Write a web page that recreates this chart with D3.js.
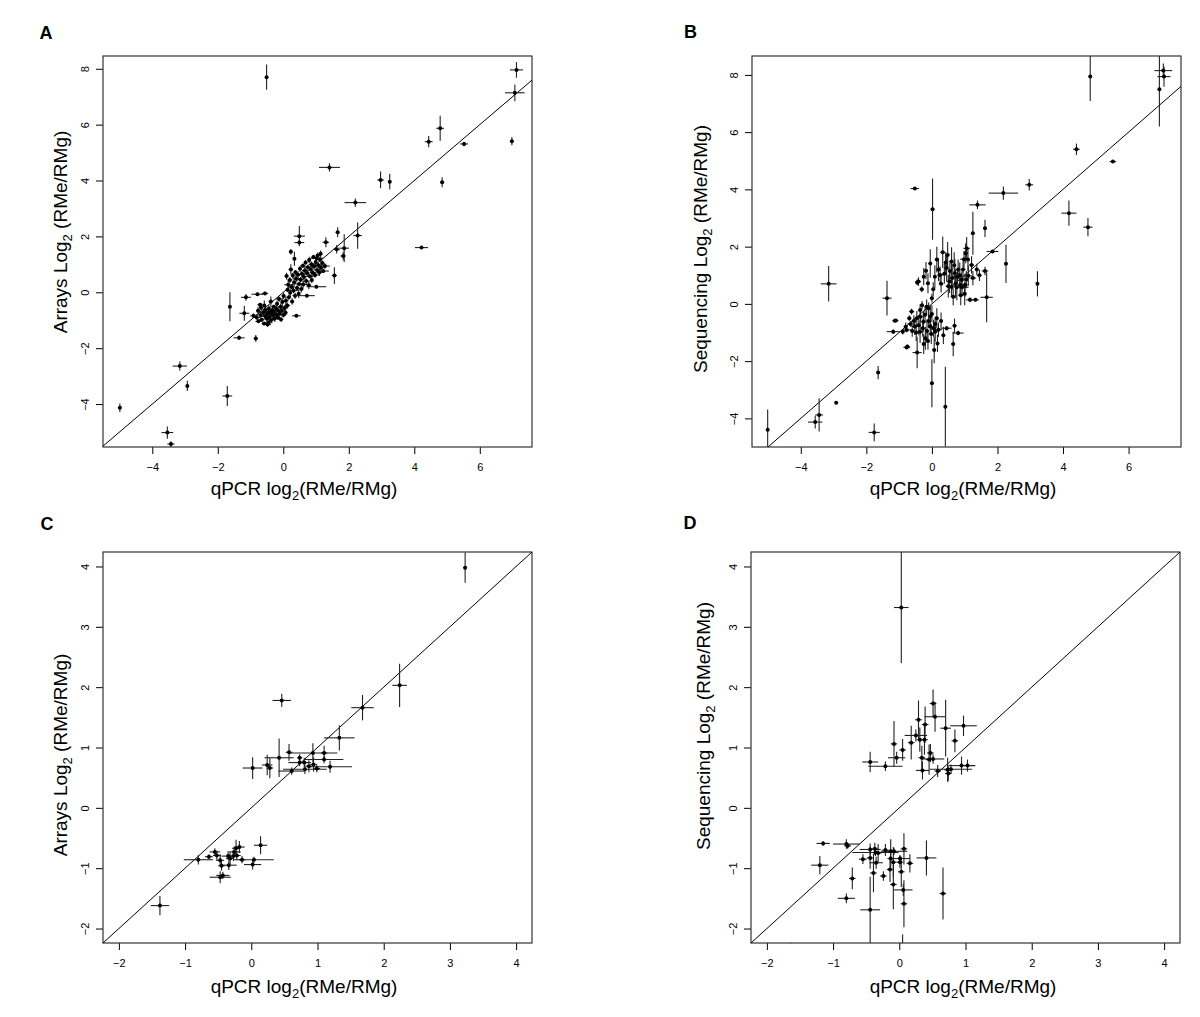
<!DOCTYPE html>
<html><head><meta charset="utf-8">
<script src="https://cdn.jsdelivr.net/npm/d3@7"></script>
<style>body{margin:0;background:#fff}svg{display:block}text{font-family:"Liberation Sans",Arial,Helvetica,sans-serif;fill:#000}</style>
</head><body>
<script>
// ---- DATA: each row = [qPCR log2, platform log2, qPCR half-error, platform half-error]
const pointsA = [
[-0.51,7.70,0.04,0.45],[7.12,7.96,0.20,0.28],[7.07,7.14,0.30,0.30],[4.79,5.87,0.12,0.45],[4.44,5.39,0.12,0.20],
[5.52,5.31,0.12,0.08],[6.98,5.41,0.05,0.15],[1.41,4.47,0.32,0.15],[2.97,4.02,0.10,0.30],[3.25,3.96,0.05,0.28],
[4.85,3.94,0.05,0.18],[2.20,3.21,0.33,0.15],[2.27,2.03,0.13,0.47],[4.22,1.60,0.20,0.06],[-4.99,-4.13,0.05,0.15],
[-3.54,-5.02,0.18,0.22],[-3.43,-5.43,0.11,0.10],[-3.16,-2.64,0.22,0.16],[-2.93,-3.35,0.04,0.18],[-1.71,-3.71,0.15,0.36],
[-1.63,-0.52,0.04,0.52],[-1.35,-1.63,0.17,0.08],[-0.84,-1.65,0.06,0.12],[-1.19,-0.75,0.15,0.27],[-1.14,-0.18,0.15,0.12],
[0.49,2.01,0.17,0.36],[0.49,1.78,0.15,0.08],[1.66,2.15,0.06,0.18],[1.30,1.79,0.10,0.18],[1.86,1.58,0.15,0.50],
[1.83,1.30,0.08,0.15],[1.56,0.60,0.08,0.30],[1.63,1.54,0.10,0.15],[0.23,1.45,0.06,0.10],[0.34,1.20,0.05,0.25],
[1.02,1.22,0.20,0.10],[1.27,0.94,0.15,0.10],[-0.79,-0.07,0.18,0.06],[-0.56,-0.04,0.10,0.06],[-0.91,-0.84,0.10,0.08],
[-0.71,-0.45,0.08,0.06],[-0.48,-1.15,0.10,0.08],
[-0.81,-0.90,0.12,0.08],[-0.77,-0.66,0.06,0.13],[-0.76,-1.04,0.09,0.06],[-0.69,-0.81,0.14,0.10],[-0.68,-0.55,0.05,0.16],
[-0.66,-0.98,0.08,0.07],[-0.60,-0.72,0.11,0.12],[-0.59,-1.12,0.07,0.06],[-0.58,-0.47,0.05,0.18],[-0.55,-0.86,0.13,0.09],
[-0.54,-0.63,0.06,0.11],[-0.50,-0.95,0.10,0.14],[-0.49,-0.78,0.07,0.08],[-0.45,-1.09,0.12,0.07],[-0.44,-0.58,0.05,0.12],
[-0.43,-0.70,0.09,0.10],[-0.42,-0.88,0.06,0.15],[-0.38,-0.33,0.07,0.18],[-0.37,-0.99,0.11,0.08],[-0.36,-0.77,0.05,0.11],
[-0.34,-0.64,0.13,0.09],[-0.30,-0.85,0.06,0.13],[-0.29,-0.52,0.09,0.07],[-0.28,-0.71,0.05,0.10],[-0.26,-0.94,0.10,0.12],
[-0.21,-0.60,0.07,0.14],[-0.20,-0.80,0.12,0.08],[-0.19,-0.41,0.05,0.11],[-0.16,-0.90,0.08,0.09],[-0.14,-0.67,0.06,0.16],
[-0.13,-0.24,0.10,0.10],[-0.11,-0.77,0.05,0.07],[-0.08,-0.52,0.09,0.12],[-0.07,-0.97,0.07,0.08],[-0.04,-0.66,0.13,0.10],
[-0.03,-0.35,0.05,0.14],[0.00,-0.81,0.08,0.09],[0.01,-0.13,0.06,0.12],[0.04,-0.56,0.11,0.08],[0.07,-0.73,0.05,0.11],
[0.08,-0.30,0.08,0.15],[0.10,0.58,0.06,0.12],
[0.12,-0.47,0.09,0.10],[0.13,0.09,0.05,0.08],[0.15,0.27,0.12,0.13],[0.17,-0.18,0.06,0.09],[0.20,0.44,0.08,0.11],
[0.21,-0.02,0.05,0.16],[0.23,0.82,0.07,0.18],[0.26,0.19,0.10,0.08],[0.27,-0.33,0.06,0.12],[0.29,0.60,0.05,0.10],
[0.31,0.06,0.13,0.09],[0.33,0.35,0.06,0.14],[0.36,-0.12,0.08,0.11],[0.37,0.72,0.05,0.08],[0.39,0.49,0.10,0.13],
[0.40,-0.84,0.13,0.05],[0.42,0.15,0.06,0.10],[0.45,0.63,0.08,0.12],[0.47,-0.05,0.05,0.15],[0.48,0.30,0.11,0.08],
[0.51,0.84,0.06,0.11],[0.53,0.45,0.09,0.09],[0.55,0.12,0.07,0.13],[0.57,0.66,0.05,0.10],[0.60,0.95,0.08,0.08],
[0.61,0.28,0.12,0.12],
[0.63,0.55,0.06,0.11],[0.66,0.78,0.09,0.15],[0.68,1.07,0.05,0.08],[0.70,0.40,0.11,0.10],[0.72,-0.12,0.24,0.06],
[0.73,0.68,0.06,0.12],[0.75,0.90,0.08,0.09],[0.78,0.25,0.07,0.14],[0.79,1.16,0.05,0.11],[0.81,0.57,0.12,0.08],
[0.84,0.82,0.06,0.13],[0.86,1.00,0.09,0.10],[0.87,0.44,0.05,0.12],[0.90,0.70,0.10,0.09],[0.92,1.26,0.06,0.08],
[0.94,0.92,0.08,0.14],[0.97,0.62,0.13,0.10],[0.99,1.08,0.05,0.12],[1.01,0.20,0.30,0.06],[1.03,0.80,0.07,0.11],
[1.05,1.32,0.06,0.10],[1.07,0.97,0.11,0.08],[1.10,0.71,0.08,0.13],[1.12,1.17,0.05,0.09],[1.15,0.88,0.09,0.12],
[1.19,1.05,0.07,0.10],[1.22,0.76,0.17,0.07],[1.14,1.38,0.05,0.12]
];
const pointsB = [
[4.83,7.94,0.04,0.85],[6.94,7.50,0.04,1.30],[7.06,8.15,0.27,0.25],[7.08,7.94,0.20,0.35],[4.41,5.40,0.10,0.20],
[5.52,4.97,0.10,0.04],[2.97,4.16,0.12,0.20],[2.18,3.87,0.45,0.23],[1.39,3.46,0.25,0.15],[4.18,3.17,0.23,0.44],
[4.76,2.68,0.14,0.32],[3.22,0.70,0.04,0.44],[-0.52,4.03,0.13,0.04],[0.02,3.31,0.06,1.07],[1.25,2.47,0.05,0.75],
[1.62,2.64,0.06,0.30],[1.85,1.83,0.18,0.06],[2.26,1.40,0.06,0.67],[1.67,0.23,0.19,0.87],[1.33,0.14,0.10,0.05],
[-3.15,0.70,0.24,0.62],[-1.37,0.20,0.14,0.61],[-5.01,-4.40,0.04,0.71],[-3.56,-4.13,0.22,0.22],[-3.44,-3.88,0.12,0.58],
[-2.92,-3.45,0.03,0.04],[-1.64,-2.40,0.05,0.23],[-1.76,-4.49,0.17,0.31],[0.00,-2.77,0.05,0.84],[0.41,-3.59,0.04,1.39],
[0.65,-1.40,0.06,0.43],[0.80,-1.02,0.17,0.08],[0.69,-0.76,0.06,0.25],[-0.45,-1.70,0.14,0.55],[-0.77,-1.52,0.10,0.06],
[-1.13,-0.59,0.08,0.04],[-1.18,-0.97,0.20,0.08],[0.07,-1.61,0.06,0.46],[0.17,-1.38,0.05,0.30],[0.45,-0.85,0.15,0.08],
[0.33,1.80,0.08,0.55],[0.48,1.71,0.06,0.45],[1.06,1.94,0.10,0.40],[1.03,1.77,0.06,0.35],[0.98,1.56,0.12,0.30],
[0.60,1.48,0.08,0.50],[-0.18,1.16,0.06,0.30],[0.09,0.95,0.05,0.40],[-0.41,0.78,0.08,0.15],[-0.12,0.72,0.06,0.35],
[0.25,1.01,0.10,0.30],[0.45,1.25,0.07,0.45],[0.70,1.07,0.06,0.50],[0.86,0.66,0.08,0.35],[0.76,0.58,0.06,0.45],
[1.01,0.66,0.10,0.40],[0.91,0.84,0.06,0.30],[1.11,0.98,0.12,0.35],[1.21,1.36,0.08,0.30],[1.37,1.20,0.06,0.20],
[1.62,1.15,0.10,0.15],[0.65,0.25,0.08,0.30],[1.16,0.14,0.12,0.08],[0.04,0.51,0.06,0.25],[-0.31,0.51,0.07,0.10],
[-0.05,1.41,0.05,0.50],[0.54,0.78,0.10,0.40],[0.20,1.20,0.06,0.40],[0.38,1.05,0.08,0.35],[0.55,1.15,0.06,0.30],
[0.62,0.90,0.12,0.40],[0.80,1.20,0.06,0.35],[0.85,1.00,0.08,0.45],[0.92,0.58,0.20,0.30],[1.05,0.85,0.06,0.30],
[1.10,1.55,0.05,0.40],[0.72,0.70,0.06,0.50],[0.50,0.62,0.08,0.40],[0.15,1.55,0.06,0.45],[0.28,0.70,0.07,0.30],
[0.42,1.45,0.05,0.35],[0.95,1.20,0.08,0.40],[0.68,1.35,0.06,0.45],[0.88,0.30,0.08,0.35],[1.25,0.90,0.10,0.25],
[1.45,1.00,0.06,0.20],[-0.25,0.95,0.05,0.30],[-0.45,0.75,0.06,0.10],[0.78,0.95,0.15,0.25],[1.00,0.35,0.06,0.40],
[0.60,0.60,0.10,0.35],
[-0.36,-0.21,0.06,0.20],[-0.16,-0.10,0.05,0.25],[-0.62,-0.27,0.08,0.10],[-0.46,-0.50,0.06,0.25],[-0.26,-0.62,0.07,0.35],
[-0.52,-0.79,0.10,0.30],[-0.36,-0.97,0.06,0.40],[-0.05,-0.79,0.08,0.30],[0.10,-0.70,0.06,0.25],[0.10,-0.97,0.07,0.35],
[-1.10,-0.58,0.08,0.05],[-0.77,-0.91,0.15,0.08],[-0.89,-0.97,0.06,0.10],[-0.75,-1.49,0.08,0.06],[-0.69,-0.50,0.06,0.10],
[-0.21,-0.38,0.07,0.30],[-0.05,-0.44,0.05,0.40],[-0.10,-0.15,0.06,0.20],[-0.30,-0.05,0.05,0.15],[-0.55,-0.60,0.08,0.20],
[-0.40,-0.75,0.06,0.35],[-0.28,-0.85,0.07,0.30],[-0.15,-0.95,0.06,0.40],[-0.02,-1.05,0.08,0.35],[0.05,-0.85,0.06,0.30],
[0.20,-0.90,0.10,0.25],[-0.48,-1.00,0.07,0.30],[-0.60,-0.95,0.06,0.20],[-0.20,-1.20,0.05,0.40],[-0.10,-0.60,0.07,0.25],
[0.00,-0.35,0.06,0.30],[-0.35,-0.45,0.08,0.20],[-0.65,-0.70,0.10,0.10],[-0.80,-0.80,0.06,0.15],[0.28,-0.60,0.06,0.30],
[0.35,-1.10,0.05,0.30],[-0.25,-1.40,0.06,0.35],[0.00,0.20,0.05,0.15],[-0.12,-1.30,0.06,0.30],[0.15,-0.50,0.05,0.35]
];
const pointsC = [
[3.23,3.98,0.03,0.25],[2.24,2.03,0.11,0.36],[1.68,1.66,0.17,0.21],[1.33,1.16,0.23,0.21],[0.46,1.78,0.14,0.11],
[0.57,0.92,0.05,0.14],[0.42,0.83,0.22,0.32],[0.24,0.71,0.08,0.17],[0.28,0.66,0.05,0.17],[0.02,0.66,0.15,0.18],
[0.73,0.83,0.04,0.06],[0.61,0.61,0.20,0.06],[0.93,0.91,0.37,0.16],[1.10,0.91,0.05,0.12],[1.10,0.80,0.29,0.06],
[0.80,0.75,0.05,0.08],[0.87,0.69,0.05,0.10],[0.94,0.72,0.05,0.12],[0.81,0.64,0.33,0.08],[0.99,0.65,0.05,0.06],
[1.19,0.68,0.33,0.10],[0.73,0.75,0.17,0.06],
[-1.38,-1.62,0.14,0.16],[-0.80,-0.86,0.22,0.08],[0.04,-0.86,0.30,0.05],[-0.64,-0.81,0.06,0.04],[-0.55,-0.73,0.08,0.06],
[-0.52,-0.79,0.06,0.08],[-0.47,-0.87,0.06,0.10],[-0.45,-0.96,0.05,0.08],[-0.47,-1.15,0.16,0.10],[-0.43,-1.12,0.10,0.06],
[-0.35,-0.80,0.10,0.06],[-0.34,-0.95,0.12,0.08],[-0.32,-0.84,0.06,0.10],[-0.26,-0.73,0.10,0.08],[-0.23,-0.67,0.06,0.14],
[-0.18,-0.65,0.08,0.10],[-0.22,-0.79,0.06,0.08],[-0.14,-0.86,0.05,0.06],[0.02,-0.94,0.13,0.08],[0.14,-0.62,0.10,0.15],
[-0.27,-0.80,0.08,0.08]
];
const pointsD = [
[0.03,3.32,0.11,0.92],[0.51,1.73,0.05,0.23],[0.54,1.51,0.16,0.25],[0.29,1.46,0.05,0.32],[0.39,1.38,0.05,0.30],
[0.70,1.32,0.08,0.47],[0.97,1.36,0.20,0.17],[0.25,1.20,0.17,0.10],[0.31,1.13,0.05,0.20],[0.38,1.13,0.05,0.25],
[0.84,1.11,0.05,0.19],[-0.08,1.06,0.05,0.38],[0.18,1.08,0.05,0.28],[0.05,0.96,0.05,0.18],[-0.04,0.83,0.13,0.10],
[-0.44,0.76,0.12,0.17],[-0.21,0.69,0.26,0.08],[0.34,0.83,0.05,0.20],[0.45,0.80,0.05,0.25],[0.51,0.81,0.17,0.08],
[0.47,0.91,0.05,0.15],[0.35,0.62,0.10,0.15],[0.58,0.61,0.05,0.10],[0.73,0.63,0.05,0.20],[0.94,0.70,0.20,0.15],
[1.03,0.70,0.12,0.10],[0.78,0.64,0.32,0.08],[0.74,0.57,0.05,0.12],
[-1.15,-0.59,0.10,0.04],[-0.80,-0.60,0.20,0.08],[-0.78,-0.63,0.05,0.05],[-1.20,-0.95,0.13,0.15],[-0.71,-1.17,0.05,0.18],
[-0.80,-1.50,0.13,0.08],[-0.44,-1.69,0.15,0.55],[-0.55,-0.85,0.06,0.08],[-0.44,-0.69,0.16,0.10],[-0.44,-0.83,0.05,0.18],
[-0.37,-0.68,0.05,0.10],[-0.36,-0.74,0.35,0.06],[-0.32,-0.75,0.05,0.15],[-0.35,-0.91,0.10,0.10],[-0.39,-1.08,0.05,0.32],
[-0.24,-1.13,0.05,0.08],[-0.21,-0.70,0.05,0.10],[-0.13,-0.72,0.05,0.20],[-0.08,-0.72,0.20,0.06],[-0.13,-0.84,0.05,0.15],
[-0.09,-0.90,0.05,0.25],[-0.14,-1.02,0.05,0.21],[-0.09,-1.27,0.05,0.41],[0.01,-0.84,0.15,0.06],[0.01,-0.90,0.05,0.10],
[0.07,-0.68,0.05,0.26],[0.03,-1.06,0.05,0.25],[0.06,-1.36,0.14,0.10],[0.07,-1.59,0.05,0.39],[0.16,-0.92,0.05,0.15],
[0.41,-0.83,0.15,0.29],[0.66,-1.42,0.05,0.43],[-1.64,-2.33,0.02,0.10],[0.05,-2.50,0.02,0.40]
];
const ticksAB_x = [-4,-2,0,2,4,6];
const ticksAB_y = [-4,-2,0,2,4,6,8];
const ticksCD = [-2,-1,0,1,2,3,4];
const letters = ["A","B","C","D"];
const yLabels = ["Arrays Log","Sequencing Log","Arrays Log","Sequencing Log"];

// ---- LAYOUT
const W = 1200, H = 1017;
const svg = d3.select("body").append("svg").attr("width", W).attr("height", H);
const panels = [
  {data: pointsA, letter: letters[0], ylab: yLabels[0], box: [103,532,56,447], xd: [-5.505,7.594], yd: [-5.537,8.457], xt: ticksAB_x, yt: ticksAB_y,
   L: [46,38.5], xT: [304,495], yT: [67,232], ytx: 84.7, xty: 471},
  {data: pointsB, letter: letters[1], ylab: yLabels[1], box: [752,1181,56,447], xd: [-5.488,7.599], yd: [-5.00,8.66], xt: ticksAB_x, yt: ticksAB_y,
   L: [690.5,38], xT: [963,495], yT: [707,249], ytx: 734, xty: 471},
  {data: pointsC, letter: letters[2], ylab: yLabels[2], box: [103,532,552,943], xd: [-2.24,4.24], yd: [-2.24,4.24], xt: ticksCD, yt: ticksCD,
   L: [47,529.5], xT: [304,993], yT: [67,755], ytx: 84.7, xty: 967},
  {data: pointsD, letter: letters[3], ylab: yLabels[3], box: [751,1180,552,943], xd: [-2.24,4.24], yd: [-2.24,4.24], xt: ticksCD, yt: ticksCD,
   L: [690,528.5], xT: [963,993], yT: [710,726], ytx: 733, xty: 967}
];
const fmt = v => (v < 0 ? "\u2212" + Math.abs(v) : String(v));

panels.forEach((p, i) => {
  const [l, r, t, b] = p.box;
  const x = d3.scaleLinear().domain(p.xd).range([l, r]);
  const y = d3.scaleLinear().domain(p.yd).range([b, t]);
  const g = svg.append("g");
  const cid = "clip" + i;
  svg.append("clipPath").attr("id", cid).append("rect").attr("x", l).attr("y", t).attr("width", r - l).attr("height", b - t);

  const ax = g.append("g").attr("transform", `translate(0,${b})`)
    .call(d3.axisBottom(x).tickValues(p.xt).tickSize(7).tickFormat(fmt));
  ax.select(".domain").remove();
  ax.selectAll("line").attr("stroke", "#000");
  ax.selectAll("text").attr("font-size", 11).attr("y", null).attr("dy", null)
    .attr("transform", `translate(0,${p.xty - b})`).attr("dominant-baseline", "auto");
  const ay = g.append("g").attr("transform", `translate(${l},0)`)
    .call(d3.axisLeft(y).tickValues(p.yt).tickSize(7).tickFormat(fmt));
  ay.select(".domain").remove();
  ay.selectAll("line").attr("stroke", "#000");
  ay.selectAll("text").attr("font-size", 11).attr("x", null).attr("dy", null)
    .attr("text-anchor", "middle").attr("dominant-baseline", "central")
    .attr("transform", `translate(${p.ytx - l},0) rotate(-90)`);

  g.append("rect").attr("x", l).attr("y", t).attr("width", r - l).attr("height", b - t)
    .attr("fill", "none").attr("stroke", "#333").attr("stroke-width", 1.2);

  const plot = g.append("g").attr("clip-path", `url(#${cid})`);
  const lo = Math.min(p.xd[0], p.yd[0]) - 1, hi = Math.max(p.xd[1], p.yd[1]) + 1;
  plot.append("line").attr("x1", x(lo)).attr("y1", y(lo)).attr("x2", x(hi)).attr("y2", y(hi))
    .attr("stroke", "#000").attr("stroke-width", 1);

  plot.selectAll(".eh").data(p.data).join("line")
    .attr("x1", d => x(d[0] - d[2])).attr("x2", d => x(d[0] + d[2]))
    .attr("y1", d => y(d[1])).attr("y2", d => y(d[1]))
    .attr("stroke", "#222").attr("stroke-width", 1.1);
  plot.selectAll(".ev").data(p.data).join("line")
    .attr("x1", d => x(d[0])).attr("x2", d => x(d[0]))
    .attr("y1", d => y(d[1] - d[3])).attr("y2", d => y(d[1] + d[3]))
    .attr("stroke", "#222").attr("stroke-width", 1.1);
  plot.selectAll("circle").data(p.data).join("circle")
    .attr("cx", d => x(d[0])).attr("cy", d => y(d[1])).attr("r", 2).attr("fill", "#000");

  const xt = g.append("text").attr("x", p.xT[0]).attr("y", p.xT[1]).attr("text-anchor", "middle").attr("font-size", 19);
  xt.append("tspan").text("qPCR log");
  xt.append("tspan").text("2").attr("font-size", 13).attr("dy", 5);
  xt.append("tspan").text("(RMe/RMg)").attr("dy", -5);

  const yt = g.append("text").attr("transform", `translate(${p.yT[0]},${p.yT[1]}) rotate(-90)`)
    .attr("text-anchor", "middle").attr("font-size", 19);
  yt.append("tspan").text(p.ylab);
  yt.append("tspan").text("2").attr("font-size", 13).attr("dy", 5);
  yt.append("tspan").text(" (RMe/RMg)").attr("dy", -5);

  g.append("text").attr("x", p.L[0]).attr("y", p.L[1]).attr("text-anchor", "middle")
    .attr("font-size", 18).attr("font-weight", "bold").text(p.letter);
});
</script>
</body></html>
